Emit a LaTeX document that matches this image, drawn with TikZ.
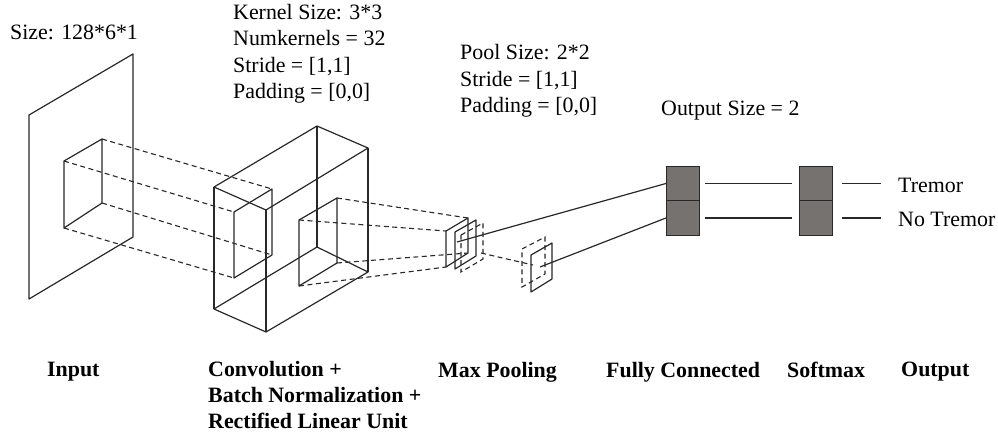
\documentclass[tikz,border=0pt]{standalone}
\usepackage{fontspec}
\setmainfont{Liberation Serif}
\definecolor{cellgray}{HTML}{767270}
\definecolor{inkgray}{HTML}{282828}
\tikzset{
	plane/.style={draw=inkgray,line width=1.2pt,line join=round},
	link/.style={draw=inkgray,line width=1.1pt,dash pattern=on 5pt off 3.5pt},
	wire/.style={draw=inkgray,line width=1.2pt},
	cell/.style={draw=inkgray,fill=cellgray,line width=1.2pt,minimum width=33pt,minimum height=34.5pt,inner sep=0pt},
	note/.style={anchor=north west,align=left,inner sep=0pt,font=\fontsize{21.9}{26.4}\selectfont},
	caption/.style={note,font=\fontsize{21.9}{26}\selectfont\bfseries}
}
\begin{document}
\begin{tikzpicture}[x=1pt,y=-1pt]
	\useasboundingbox (0,0) rectangle (998,436);
	% input plane and its window
	\coordinate (ina) at (29,115); \coordinate (inb) at (133,54);
	\coordinate (inc) at (133,237); \coordinate (ind) at (29,299);
	\coordinate (wina) at (64,161); \coordinate (winb) at (102,139);
	\coordinate (winc) at (102,203); \coordinate (wind) at (64,228);
	\draw[plane] (ina) -- (inb) -- (inc) -- (ind) -- cycle;
	\draw[plane] (wina) -- (winb) -- (winc) -- (wind) -- cycle;
	% kernel on the front of the block
	\coordinate (kera) at (234,212); \coordinate (kerb) at (272,189);
	\coordinate (kerc) at (272,255); \coordinate (kerd) at (234,278);
	\draw[plane] (kera) -- (kerb) -- (kerc) -- (kerd) -- cycle;
	\draw[link] (wina) -- (kera);
	\draw[link] (winb) -- (kerb);
	\draw[link] (winc) -- (kerc);
	\draw[link] (wind) -- (kerd);
	% convolution block
	\coordinate (cva) at (214,187); \coordinate (cvb) at (317,126);
	\coordinate (cvc) at (368,148); \coordinate (cvd) at (266,210);
	\coordinate (cve) at (214,309); \coordinate (cvf) at (317,247);
	\coordinate (cvg) at (368,272); \coordinate (cvh) at (266,332);
	\draw[plane] (cva) -- (cvb) -- (cvc) -- (cvd) -- cycle;
	\draw[plane] (cve) -- (cvf) -- (cvg) -- (cvh) -- cycle;
	\draw[plane] (cva) -- (cve);
	\draw[plane] (cvb) -- (cvf);
	\draw[plane] (cvc) -- (cvg);
	\draw[plane] (cvd) -- (cvh);
	% feature map inside the block
	\coordinate (fma) at (299,220); \coordinate (fmb) at (337,198);
	\coordinate (fmc) at (337,263); \coordinate (fmd) at (299,286);
	\draw[plane] (fma) -- (fmb) -- (fmc) -- (fmd) -- cycle;
	% max pooling stack
	\coordinate (pla) at (446,231); \coordinate (plb) at (468,218);
	\coordinate (plc) at (468,253); \coordinate (pld) at (446,267);
	\coordinate (pma) at (455,232); \coordinate (pmb) at (476,220);
	\coordinate (pmc) at (476,256); \coordinate (pmd) at (455,269);
	\coordinate (pna) at (461,235); \coordinate (pnb) at (483,223);
	\coordinate (pnc) at (483,259); \coordinate (pnd) at (461,272);
	\draw[plane] (pla) -- (plb) -- (plc) -- (pld) -- cycle;
	\draw[plane] (pma) -- (pmb) -- (pmc) -- (pmd) -- cycle;
	\draw[link] (pna) -- (pnb) -- (pnc) -- (pnd) -- cycle;
	\draw[link] (fma) -- (pla);
	\draw[link] (fmb) -- (plb);
	\draw[link] (fmc) -- (plc);
	\draw[link] (fmd) -- (pld);
	% pooled output
	\coordinate (qla) at (522,249); \coordinate (qlb) at (545,237);
	\coordinate (qlc) at (545,274); \coordinate (qld) at (522,287);
	\coordinate (qma) at (531,255); \coordinate (qmb) at (552,243);
	\coordinate (qmc) at (552,279); \coordinate (qmd) at (531,292);
	\coordinate (qin) at (481,253); \coordinate (qout) at (533,265);
	\draw[link] (qla) -- (qlb) -- (qlc) -- (qld) -- cycle;
	\draw[plane] (qma) -- (qmb) -- (qmc) -- (qmd) -- cycle;
	\draw[link] (qin) -- (qout);
	% fully connected and softmax
	\node (fca) [cell] at (683,183.5) {};
	\node (fcb) [cell] at (683,218) {};
	\node (sma) [cell] at (816,183.5) {};
	\node (smb) [cell] at (816,218) {};
	\coordinate (fcin) at (457,242); \coordinate (fcinb) at (540,267);
	\draw[wire] (fcin) -- (fca.west);
	\draw[wire] (fcinb) -- (fcb.west);
	\draw[wire] ([xshift=5pt]fca.east) -- ([xshift=-7pt]sma.west);
	\draw[wire] ([xshift=5pt]fcb.east) -- ([xshift=-7pt]smb.west);
	\draw[wire] ([xshift=9pt]sma.east) coordinate (ota) -- ++(39,0);
	\draw[wire] ([xshift=9pt]smb.east) coordinate (otb) -- ++(39,0);
	% texts
	\node (sizetxt) [note] at (10,25) {Size: 128*6*1};
	\node (kerneltxt) [note] at (233,4) {Kernel Size: 3*3\\Numkernels = 32\\Stride = [1,1]\\Padding = [0,0]};
	\node (pooltxt) [note] at (460,44.5) {Pool Size: 2*2\\Stride = [1,1]\\Padding = [0,0]};
	\node (outtxt) [note] at (661,101) {Output Size = 2};
	\node (tremor) [note] at (898,178) {Tremor};
	\node (notremor) [note] at (898,212) {No Tremor};
	\node (inputcap) [caption] at (47,362) {Input};
	\node (convcap) [caption] at (208,361.5) {Convolution +\\Batch Normalization +\\Rectified Linear Unit};
	\node (poolcap) [caption] at (438,362) {Max Pooling};
	\node (fullcap) [caption] at (606,362) {Fully Connected};
	\node (softcap) [caption] at (787,362) {Softmax};
	\node (outcap) [caption] at (901,362) {Output};
\end{tikzpicture}
\end{document}
